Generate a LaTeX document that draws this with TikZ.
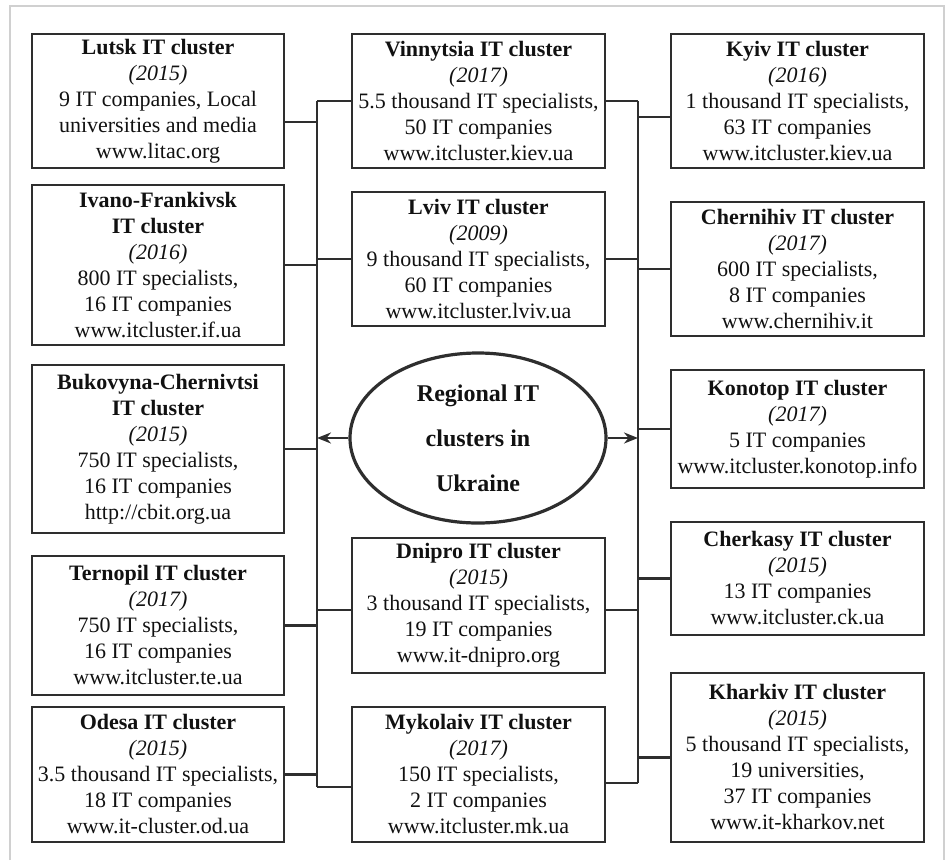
\documentclass[tikz,border=0pt]{standalone}
\usepackage{fontspec}
\setmainfont{Liberation Serif}
\usetikzlibrary{arrows.meta,shapes.geometric}
\definecolor{linec}{HTML}{2E2E2E}
\definecolor{txt}{HTML}{111111}
\definecolor{framec}{HTML}{D0D0D0}
\begin{document}
\begin{tikzpicture}[x=1pt,y=-1pt,
  box/.style={draw=linec, line width=1.7pt, minimum width=253pt, inner sep=0pt,
    align=center, text=txt, font=\fontsize{22}{26}\selectfont},
  conn/.style={draw=linec, line width=2.3pt},
  arr/.style={conn, -{Stealth[length=14pt,width=11pt]}},
  hubstyle/.style={ellipse, draw=linec, line width=3.2pt, minimum width=256pt,
    minimum height=170pt, inner sep=0pt, align=center, text=txt,
    font=\bfseries\fontsize{24}{45}\selectfont}]
\useasboundingbox (0,0) rectangle (948,860);
\draw[framec, line width=1.8pt] (10,860) -- (10,6) -- (944,6) -- (944,860);

% left column
\node[box, minimum width=252pt, minimum height=134pt] (lutsk) at (158,101)
  {\textbf{Lutsk IT cluster}\\\textit{(2015)}\\9 IT companies, Local\\universities and media\\www.litac.org};
\node[box, minimum width=252pt, minimum height=160pt] (ivano) at (158,265)
  {\textbf{Ivano-Frankivsk}\\\textbf{IT cluster}\\\textit{(2016)}\\800 IT specialists,\\16 IT companies\\www.itcluster.if.ua};
\node[box, minimum width=252pt, minimum height=168pt] (bukov) at (158,449)
  {\textbf{Bukovyna-Chernivtsi}\\\textbf{IT cluster}\\\textit{(2015)}\\750 IT specialists,\\16 IT companies\\http://cbit.org.ua};
\node[box, minimum width=252pt, minimum height=139pt] (terno) at (158,625.5)
  {\textbf{Ternopil IT cluster}\\\textit{(2017)}\\750 IT specialists,\\16 IT companies\\www.itcluster.te.ua};
\node[box, minimum width=252pt, minimum height=135pt] (odesa) at (158,774.5)
  {\textbf{Odesa IT cluster}\\\textit{(2015)}\\3.5 thousand IT specialists,\\18 IT companies\\www.it-cluster.od.ua};

% middle column
\node[box, minimum height=134pt] (vinn) at (478.5,101)
  {\textbf{Vinnytsia IT cluster}\\\textit{(2017)}\\5.5 thousand IT specialists,\\50 IT companies\\www.itcluster.kiev.ua};
\node[box, minimum height=134pt] (lviv) at (478.5,259)
  {\textbf{Lviv IT cluster}\\\textit{(2009)}\\9 thousand IT specialists,\\60 IT companies\\www.itcluster.lviv.ua};
\node[hubstyle] (hub) at (478,438) {Regional IT\\clusters in\\Ukraine};
\node[box, minimum height=135pt] (dnipro) at (478.5,605.5)
  {\textbf{Dnipro IT cluster}\\\textit{(2015)}\\3 thousand IT specialists,\\19 IT companies\\www.it-dnipro.org};
\node[box, minimum height=135pt] (myk) at (478.5,774.5)
  {\textbf{Mykolaiv IT cluster}\\\textit{(2017)}\\150 IT specialists,\\2 IT companies\\www.itcluster.mk.ua};

% right column
\node[box, minimum height=134pt] (kyiv) at (797.5,101)
  {\textbf{Kyiv IT cluster}\\\textit{(2016)}\\1 thousand IT specialists,\\63 IT companies\\www.itcluster.kiev.ua};
\node[box, minimum height=134pt] (chern) at (797.5,269)
  {\textbf{Chernihiv IT cluster}\\\textit{(2017)}\\600 IT specialists,\\8 IT companies\\www.chernihiv.it};
\node[box, minimum height=118pt] (konot) at (797.5,429)
  {\textbf{Konotop IT cluster}\\\textit{(2017)}\\5 IT companies\\www.itcluster.konotop.info};
\node[box, minimum height=113pt] (cherk) at (797.5,578.5)
  {\textbf{Cherkasy IT cluster}\\\textit{(2015)}\\13 IT companies\\www.itcluster.ck.ua};
\node[box, minimum height=169pt] (khark) at (797.5,757.5)
  {\textbf{Kharkiv IT cluster}\\\textit{(2015)}\\5 thousand IT specialists,\\19 universities,\\37 IT companies\\www.it-kharkov.net};

% buses
\coordinate (bL) at (317,0);
\coordinate (bR) at (638,0);
\draw[conn] (vinn.west -| bL) -- ([yshift=-12.5pt]myk.west -| bL);
\draw[conn] (vinn.east -| bR) -- ([yshift=-8.5pt]myk.east -| bR);

% left connectors
\draw[conn] ([yshift=-21pt]lutsk.east) -- ([yshift=-21pt]lutsk.east -| bL);
\draw[conn] (ivano.east) -- (ivano.east -| bL);
\draw[conn] (bukov.east) -- (bukov.east -| bL);
\draw[conn] (terno.east) -- (terno.east -| bL);
\draw[conn] (odesa.east) -- (odesa.east -| bL);
\draw[conn] (vinn.west) -- (vinn.west -| bL);
\draw[conn] (lviv.west) -- (lviv.west -| bL);
\draw[conn] ([yshift=-4.5pt]dnipro.west) -- ([yshift=-4.5pt]dnipro.west -| bL);
\draw[conn] ([yshift=-12.5pt]myk.west) -- ([yshift=-12.5pt]myk.west -| bL);

% right connectors
\draw[conn] (vinn.east) -- (vinn.east -| bR);
\draw[conn] (lviv.east) -- (lviv.east -| bR);
\draw[conn] ([yshift=-4.5pt]dnipro.east) -- ([yshift=-4.5pt]dnipro.east -| bR);
\draw[conn] ([yshift=-8.5pt]myk.east) -- ([yshift=-8.5pt]myk.east -| bR);
\draw[conn] ([yshift=-16pt]kyiv.west) -- ([yshift=-16pt]kyiv.west -| bR);
\draw[conn] (chern.west) -- (chern.west -| bR);
\draw[conn] (konot.west) -- (konot.west -| bR);
\draw[conn] (cherk.west) -- (cherk.west -| bR);
\draw[conn] (khark.west) -- (khark.west -| bR);

% hub arrows
\draw[arr] (hub.west) -- (hub.west -| bL);
\draw[arr] (hub.east) -- (hub.east -| bR);
\end{tikzpicture}
\end{document}
